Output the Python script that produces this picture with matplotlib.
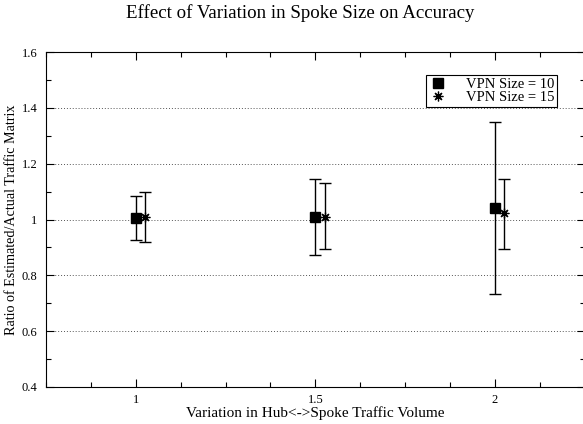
import numpy as np
import matplotlib
matplotlib.use("Agg")
import matplotlib.pyplot as plt
from matplotlib.ticker import FixedLocator, MultipleLocator

plt.rcParams["font.family"] = ["Liberation Serif", "DejaVu Serif"]

# Data
x_vals = [1.0, 1.5, 2.0]
x_shift = 0.026  # second series drawn slightly right of the first

size10_mean = [1.004, 1.008, 1.042]
size10_low = [0.927, 0.872, 0.732]
size10_high = [1.085, 1.144, 1.350]

size15_mean = [1.008, 1.010, 1.022]
size15_low = [0.918, 0.893, 0.893]
size15_high = [1.100, 1.130, 1.146]

x_ticks = [1, 1.5, 2]
x_ticklabels = ["1", "1.5", "2"]
y_ticks = [0.4, 0.6, 0.8, 1.0, 1.2, 1.4, 1.6]
y_ticklabels = ["0.4", "0.6", "0.8", "1", "1.2", "1.4", "1.6"]

fig = plt.figure(figsize=(5.83, 4.24), dpi=100)
ax = fig.add_axes([0.0789, 0.0873, 0.924, 0.790])

m10 = np.array(size10_mean)
err10 = [m10 - np.array(size10_low), np.array(size10_high) - m10]
m15 = np.array(size15_mean)
err15 = [m15 - np.array(size15_low), np.array(size15_high) - m15]
x15 = np.array(x_vals) + x_shift

ax.errorbar(x_vals, m10, yerr=err10, fmt="none", ecolor="black",
            elinewidth=1.0, capsize=4, capthick=1.0)
ax.errorbar(x15, m15, yerr=err15, fmt="none",
            ecolor="black", elinewidth=1.0, capsize=4, capthick=1.0)
ax.plot(x_vals, m10, "s", color="black", markersize=7.5, label="VPN Size = 10")
ax.plot(x15, m15, marker=(8, 2, 0), linestyle="none", color="black",
        markersize=7, markeredgewidth=0.9, label="VPN Size = 15")

ax.set_xlim(0.75, 2.25)
ax.set_ylim(0.4, 1.6)
ax.xaxis.set_major_locator(FixedLocator(x_ticks))
ax.xaxis.set_minor_locator(MultipleLocator(0.125))
ax.yaxis.set_major_locator(FixedLocator(y_ticks))
ax.yaxis.set_minor_locator(MultipleLocator(0.1))
ax.set_xticklabels(x_ticklabels)
ax.set_yticklabels(y_ticklabels)
ax.tick_params(which="both", direction="in", top=True, right=True,
               labelsize=9, width=0.8)
ax.tick_params(axis="y", pad=6)
ax.tick_params(axis="x", pad=5)
ax.tick_params(which="major", length=6)
ax.tick_params(which="minor", length=3.5)

for y in y_ticks[1:-1]:
    ax.axhline(y, color="#555555", linestyle=(0, (1, 2)), linewidth=0.7, zorder=0)

fig.text(300.5 / 583, 1 - 13 / 424, "Effect of Variation in Spoke Size on Accuracy",
         fontsize=13.6, ha="center", va="center")
ax.set_xlabel("Variation in Hub<->Spoke Traffic Volume", fontsize=11, labelpad=0)
ax.set_ylabel("Ratio of Estimated/Actual Traffic Matrix", fontsize=10.2, labelpad=3)

leg = ax.legend(loc="upper right", bbox_to_anchor=(0.9486, 0.931), fontsize=10.5,
                frameon=True, fancybox=False, edgecolor="black", framealpha=1,
                handlelength=1.2, handletextpad=1.3, borderpad=0.2,
                labelspacing=0.0, borderaxespad=0)
leg.get_frame().set_linewidth(0.8)

fig.savefig("out.png", dpi=100)
